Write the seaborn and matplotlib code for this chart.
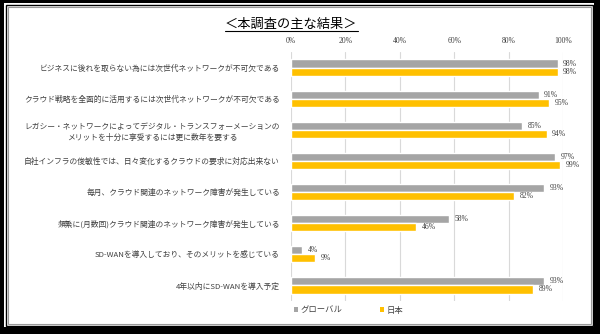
import matplotlib
matplotlib.use("Agg")
import matplotlib.pyplot as plt
from matplotlib.patches import Rectangle
from matplotlib.lines import Line2D
import seaborn as sns
import pandas as pd

categories = [
    "ビジネスに後れを取らない為には次世代ネットワークが不可欠である",
    "クラウド戦略を全面的に活用するには次世代ネットワークが不可欠である",
    "レガシー・ネットワークによってデジタル・トランスフォーメーションの\nメリットを十分に享受するには更に数年を要する",
    "自社インフラの俊敏性では、日々変化するクラウドの要求に対応出来ない",
    "毎月、クラウド関連のネットワーク障害が発生している",
    "頻繁に(月数回)クラウド関連のネットワーク障害が発生している",
    "SD-WANを導入しており、そのメリットを感じている",
    "4年以内にSD-WANを導入予定",
]
series_names = ["グローバル", "日本"]
global_values = [98, 91, 85, 97, 93, 58, 4, 93]
japan_values = [98, 95, 94, 99, 82, 46, 9, 89]
x_ticks = [0, 20, 40, 60, 80, 100]
x_tick_labels = ["0%", "20%", "40%", "60%", "80%", "100%"]
title = "＜本調査の主な結果＞"

colors = ["#a5a5a5", "#ffc000"]

df = pd.DataFrame({
    "item": categories * 2,
    "value": global_values + japan_values,
    "region": [series_names[0]] * len(categories) + [series_names[1]] * len(categories),
})

sns.set_theme(style="white")
plt.rcParams["font.family"] = ["Noto Sans CJK JP", "DejaVu Sans"]

W, H = 600, 334
fig = plt.figure(figsize=(6.0, 3.34), dpi=100)
fig.patch.set_facecolor("black")

def px_rect(x0, y0, x1, y1, **kw):
    return Rectangle((x0 / W, 1 - y1 / H), (x1 - x0) / W, (y1 - y0) / H,
                     transform=fig.transFigure, **kw)

fig.add_artist(px_rect(4, 3, 594, 327, facecolor="white", edgecolor="none", zorder=-5))
fig.add_artist(px_rect(6, 5, 592.5, 325.5, facecolor="none", edgecolor="black", lw=1.0, zorder=-4))
fig.add_artist(px_rect(7.5, 6.5, 591, 324, facecolor="white", edgecolor="#9a9a9a", lw=0.8, zorder=-3))

ax = fig.add_axes([291 / W, 1 - 301 / H, (563 - 291) / W, (301 - 52) / H])
ax.set_facecolor("white")

sns.barplot(data=df, y="item", x="value", hue="region", hue_order=series_names,
            order=categories, orient="h", palette=colors, width=0.52,
            saturation=1, ax=ax, legend=False, errorbar=None)

ax.set_xlim(0, 100)
ax.set_ylim(len(categories) - 0.5, -0.5)
ax.set_xticks(x_ticks)
ax.set_xticklabels(x_tick_labels, fontsize=5.5, family=["Liberation Serif"], color="#404040")
ax.xaxis.tick_top()
ax.tick_params(axis="x", length=0, pad=5)
ax.tick_params(axis="y", length=0, pad=8)
ax.set_xlabel("")
ax.set_ylabel("")
ax.grid(axis="x", color="#d9d9d9", lw=0.8)
ax.set_axisbelow(True)
for s in ax.spines.values():
    s.set_visible(False)

for lbl in ax.get_yticklabels():
    lbl.set_fontsize(5.6)
    lbl.set_color("#404040")
    lbl.set_multialignment("center")
    lbl.set_linespacing(1.5)

for cont in ax.containers:
    ax.bar_label(cont, fmt="%d%%", padding=4, fontsize=5.5,
                 family=["Liberation Serif"], color="#404040")

# title with underline
fig.text(291 / W, 1 - 24 / H, title, ha="center", va="center", fontsize=9.5, color="black")
fig.add_artist(Line2D([225 / W, 358 / W], [1 - 31 / H, 1 - 31 / H],
                      transform=fig.transFigure, color="black", lw=0.8))

# legend
handles = [Rectangle((0, 0), 1, 1, facecolor=c, edgecolor="none") for c in colors]
fig.legend(handles, series_names, loc="center left",
           bbox_to_anchor=(286 / W, 1 - 310 / H), ncol=2, frameon=False,
           fontsize=6, handlelength=0.5, handleheight=0.5, handletextpad=0.3,
           columnspacing=4.5, labelcolor="#404040")

fig.savefig("out.png", dpi=100, facecolor=fig.get_facecolor())
